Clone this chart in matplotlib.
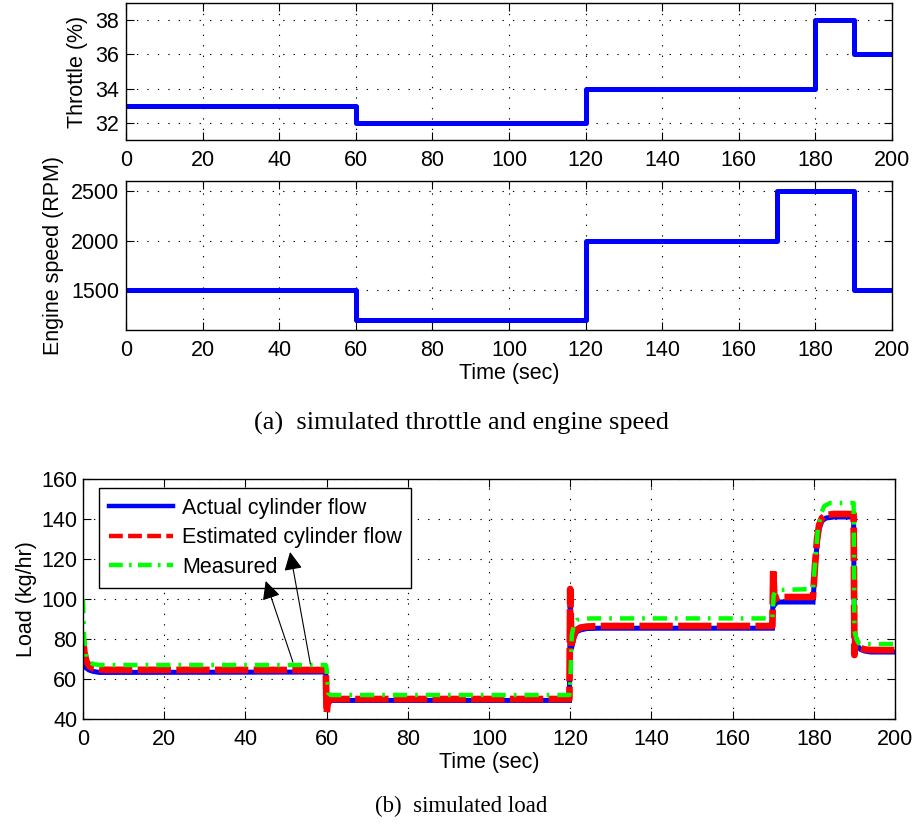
import matplotlib
matplotlib.use("Agg")
import matplotlib.pyplot as plt
from matplotlib.lines import Line2D

# ---- data -------------------------------------------------------------
# throttle command (%) as a step signal
throttle_t = [0, 60, 120, 180, 190, 200]
throttle_v = [33, 32, 34, 38, 36, 36]

# engine speed command (RPM) as a step signal
speed_t = [0, 60, 120, 170, 190, 200]
speed_v = [1500, 1200, 2000, 2500, 1500, 1500]

# actual cylinder flow (kg/hr)
actual_t = [0, 0.3, 0.8, 1.5, 2.5, 4, 6, 59.8, 60.0, 60.3, 61.0,
            119.8, 120.0, 120.3, 120.8, 121.5, 122.5, 124, 127,
            169.8, 170.0, 170.3, 170.8, 171.5,
            179.8, 180.3, 180.8, 181.3, 182, 183, 185,
            189.8, 190.0, 190.3, 190.8, 191.5, 192.5, 194, 200]
actual_v = [69, 67, 65.5, 64.5, 63.8, 63.3, 63.3, 63.5, 44, 47.5, 49.3,
            49.3, 99, 75, 80, 83.5, 84.5, 85.2, 85.4,
            85.4, 110, 97, 98.2, 98.5,
            98.5, 115, 128, 135, 139, 140.5, 141,
            141, 71, 79, 76.5, 74.8, 74, 73.5, 73.5]

# estimated cylinder flow (kg/hr)
estimated_t = actual_t
estimated_v = [80, 74, 69, 66.5, 65.3, 64.8, 64.6, 64.5, 43, 48, 50,
               50, 105, 76, 81.5, 84.5, 85.7, 86.2, 86.5,
               86.5, 115, 99.5, 100.5, 101,
               101, 117, 130, 137, 140.5, 142, 142.5,
               142.5, 72, 80, 77, 75.5, 74.8, 74.5, 74.5]

# measured flow (kg/hr)
measured_t = [0, 0.3, 0.8, 1.5, 2.5, 4, 59.8, 60.0, 60.4, 61,
              119.8, 120.0, 120.4, 121, 121.6, 123, 125,
              169.8, 170.1, 170.6, 171.5,
              179.8, 180.3, 181, 181.8, 182.6, 184,
              189.8, 190.0, 190.5, 191, 192, 193.5, 200]
measured_v = [100, 80, 71, 68.5, 67.5, 67, 67, 65, 53, 52,
              52, 58, 82, 88, 89.5, 90, 90.3,
              90.3, 102, 104, 104.5,
              105, 118, 135, 143, 146.5, 148,
              148, 84, 80, 78, 77.5, 77.5, 77.5]

series_labels = ["Actual cylinder flow", "Estimated cylinder flow", "Measured"]

# ---- style ------------------------------------------------------------
plt.rcParams["font.family"] = ["Liberation Sans", "DejaVu Sans"]
plt.rcParams["font.size"] = 15.5
plt.rcParams["axes.linewidth"] = 1.0

FS = 15.5
BLUE = "#0000ff"
RED = "#ff0000"
GREEN = "#00ff00"
GRID_STYLE = dict(color="black", linestyle=(0, (1.2, 8.2)), linewidth=0.8)
SERIF = ["Liberation Serif", "DejaVu Serif"]

fig = plt.figure(figsize=(9.16, 8.26), dpi=100)


def style_axes(ax, xpad=7.5, ypad=5):
    ax.tick_params(direction="in", top=True, right=True, length=5.5,
                   width=0.8, labelsize=FS)
    ax.tick_params(axis="x", pad=xpad)
    ax.tick_params(axis="y", pad=ypad)
    ax.grid(True, **GRID_STYLE)
    ax.set_axisbelow(True)
    for s in ax.spines.values():
        s.set_color("black")


# throttle
ax1 = fig.add_axes([0.1376, 0.8305, 0.8362, 0.1659])
ax1.plot(throttle_t, throttle_v, drawstyle="steps-post", color=BLUE, lw=3.6)
ax1.set_xlim(0, 200)
ax1.set_ylim(31, 39)
ax1.set_xticks(range(0, 201, 20))
ax1.set_yticks([32, 34, 36, 38])
style_axes(ax1)
ax1.set_ylabel("Throttle (%)", fontsize=FS, labelpad=5)

# engine speed
ax2 = fig.add_axes([0.1376, 0.6005, 0.8362, 0.1804])
ax2.plot(speed_t, speed_v, drawstyle="steps-post", color=BLUE, lw=3.6)
ax2.set_xlim(0, 200)
ax2.set_ylim(1100, 2600)
ax2.set_xticks(range(0, 201, 20))
ax2.set_yticks([1500, 2000, 2500])
style_axes(ax2)
ax2.set_ylabel("Engine speed (RPM)", fontsize=FS, labelpad=5)
ax2.set_xlabel("Time (sec)", fontsize=FS, labelpad=1)

fig.text(0.504, 0.487, "(a)  simulated throttle and engine speed",
         family=SERIF, fontsize=18.9, ha="center", va="center")

# load
ax3 = fig.add_axes([0.0906, 0.1295, 0.8865, 0.2906])
ax3.plot(actual_t, actual_v, color=BLUE, lw=3.6, solid_joinstyle="miter")
ax3.plot(estimated_t, estimated_v, color=RED, lw=4.8, linestyle=(0, (5, 0.8)))
ax3.plot(measured_t, measured_v, color=GREEN, lw=3.2,
         linestyle=(0, (3.2, 1.8, 0.6, 1.8)))
ax3.set_xlim(0, 200)
ax3.set_ylim(40, 160)
ax3.set_xticks(range(0, 201, 20))
ax3.set_yticks(range(40, 161, 20))
style_axes(ax3, ypad=4)
ax3.set_ylabel("Load (kg/hr)", fontsize=FS, labelpad=3)
ax3.set_xlabel("Time (sec)", fontsize=FS, labelpad=1)

handles = [
    Line2D([], [], color=BLUE, lw=3.2),
    Line2D([], [], color=RED, lw=3.2, linestyle=(0, (3.1, 1.2))),
    Line2D([], [], color=GREEN, lw=3.2, linestyle=(0, (3.1, 1.4, 0.6, 1.4))),
]
leg = ax3.legend(handles, series_labels, loc="upper left",
                 bbox_to_anchor=(0.1081, 0.4092), bbox_transform=fig.transFigure,
                 fancybox=False, framealpha=1, edgecolor="black",
                 fontsize=FS, handlelength=3.0, handletextpad=0.4,
                 borderpad=0.45, labelspacing=0.4, borderaxespad=0)
leg.get_frame().set_linewidth(1.0)
leg.set_zorder(5)

arrow_kw = dict(arrowstyle="-|>", color="black", lw=0.8, mutation_scale=28,
                shrinkA=0, shrinkB=0)
ax3.annotate("", xy=(45, 109), xytext=(51.7, 68.5), arrowprops=arrow_kw,
             zorder=10)
ax3.annotate("", xy=(51, 123.5), xytext=(56, 67.5), arrowprops=arrow_kw,
             zorder=10)

fig.text(0.504, 0.0235, "(b)  simulated load",
         family=SERIF, fontsize=16.5, ha="center", va="center")

fig.savefig("out.png", dpi=100)
